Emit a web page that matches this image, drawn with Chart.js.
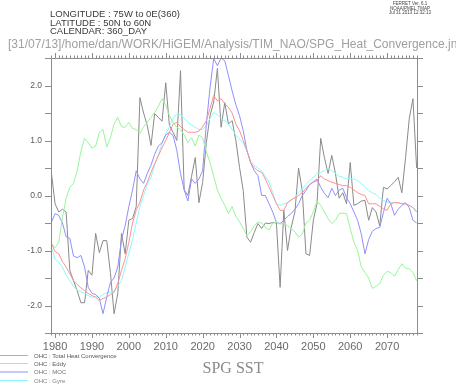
<!DOCTYPE html>
<html>
<head>
<meta charset="utf-8">
<script src="https://cdn.jsdelivr.net/npm/chart.js@4.4.1/dist/chart.umd.min.js"></script>
<style>
html, body { margin: 0; padding: 0; background: #fff; }
</style>
</head>
<body>
<canvas id="c" width="456" height="384"></canvas>
<script>
// yearly values, 1979 .. 2078
var firstYear = 1979, lastYear = 2078;
var years = [];
for (var yr = firstYear; yr <= lastYear; yr++) years.push(yr);

var decadeTicks = [1980, 1990, 2000, 2010, 2020, 2030, 2040, 2050, 2060, 2070];
var yTickLabels = [-2, -1, 0, 1, 2];

var sst = [ // grey line
    0.42, -0.15, -0.3, -0.25, -0.3, -1.36, -1.55, -1.73, -1.95, -1.95,
    -1.36, -1.45, -0.69, -1.04, -0.82, -0.82, -1.4, -2.15, -1.78, -0.69,
    -1.06, -0.45, -0.42, -0.2, 1.78, 1.5, 1.27, 0.91, 1.49, 1.42,
    1.35, 2.05, 1.27, 1.15, 1.0, 2.27, 0.1, 0.0, 0.35, 0.69,
    -0.13, 0.24, 0.96, 1.45, 1.7, 2.31, 1.24, 1.69, 1.3, 1.36,
    1.0, 0.51, 0.09, -0.76, -0.85, -0.67, -0.51, -0.6, -0.5, -0.51,
    -0.49, -0.5, -1.67, -0.27, -1.0, -0.58, -0.3, 0.5, 0.09, -1.06,
    -1.09, -0.45, -0.15, 1.04, 0.69, 0.4, 0.73, 0.4, -0.05, 0.05,
    -0.15, 0.6, -0.18, -0.15, -0.1, -0.09, -0.45, -0.22, -0.3, -0.55,
    0.15, 0.12, 0.18, 0.25, 0.33, 0.05, 0.69, 1.4, 1.76, 0.5
];
var total = [
    -0.87, -1.02, -1.06, -1.2, -1.3, -1.42, -1.55, -1.62, -1.68, -1.73,
    -1.78, -1.82, -1.85, -1.91, -1.87, -1.85, -1.8, -1.76, -1.6, -1.36,
    -1.15, -0.85, -0.5, -0.27, -0.12, 0.1, 0.24, 0.42, 0.58, 0.72,
    0.87, 1.0, 1.15, 1.3, 1.33, 1.25, 1.2, 1.15, 1.15, 1.15,
    1.17, 1.25, 1.36, 1.58, 1.82, 1.72, 1.76, 1.67, 1.6, 1.5,
    1.3, 1.18, 1.0, 0.82, 0.6, 0.5, 0.45, 0.42, 0.3, 0.15,
    0.0, -0.15, -0.27, -0.27, -0.13, -0.08, -0.04, 0.0, 0.05, 0.13,
    0.2, 0.24, 0.27, 0.36, 0.3, 0.27, 0.24, 0.22, 0.2, 0.18,
    0.18, 0.15, 0.1, 0.05, 0.02, 0.0, -0.15, -0.15, -0.15, -0.2,
    -0.24, -0.27, -0.15, -0.13, -0.13, -0.15, -0.15, -0.18, -0.22, -0.3
];
var eddy = [
    -0.87, -0.95, -0.85, -0.4, -0.05, 0.15, 0.22, 0.45, 0.8, 1.04,
    0.96, 0.86, 0.9, 1.15, 1.2, 0.88, 1.05, 1.3, 1.42, 1.25,
    1.24, 1.33, 1.22, 1.2, 1.13, 1.25, 1.33, 1.42, 1.51, 1.62,
    1.76, 1.64, 1.45, 1.33, 1.24, 1.2, 1.1, 0.96, 1.05, 0.9,
    1.1, 1.05, 0.8, 0.6, 0.35, 0.1, -0.05, -0.18, -0.33, -0.2,
    -0.38, -0.48, -0.6, -0.73, -0.66, -0.55, -0.48, -0.5, -0.58, -0.63,
    -0.5, -0.49, -0.52, -0.5, -0.55, -0.6, -0.66, -0.76, -0.7, -0.5,
    -0.45, -0.3, -0.1, -0.18, -0.3, -0.42, -0.51, -0.45, -0.33, -0.32,
    -0.33, -0.6, -0.85, -1.0, -1.3, -1.4, -1.5, -1.69, -1.65, -1.6,
    -1.45, -1.38, -1.4, -1.47, -1.35, -1.24, -1.32, -1.33, -1.4, -1.55
];
var moc = [
    -0.49, -0.33, -0.36, -0.5, -0.75, -0.78, -1.1, -1.13, -1.09, -1.3,
    -1.67, -1.78, -1.8, -1.87, -2.15, -1.85, -1.58, -1.5, -1.3, -0.8,
    -0.55, -0.2, 0.1, 0.45, 0.3, 0.22, 0.4, 0.55, 0.75, 0.9,
    0.96, 1.1, 1.15, 1.09, 0.82, 0.4, 0.1, -0.1, 0.3, 0.22,
    0.3, 0.45, 1.3, 1.96, 2.49, 2.36, 2.5, 2.45, 2.18, 1.9,
    1.65, 1.45, 1.18, 0.82, 0.6, 0.45, 0.36, 0.0, 0.0, -0.15,
    -0.3, -0.49, -0.51, -0.45, -0.38, -0.33, -0.25, -0.15, 0.0, 0.09,
    0.2, 0.25, 0.3, 0.15, 0.04, -0.04, 0.13, 0.0, 0.1, 0.13,
    -0.04, -0.15, -0.3, -0.45, -0.7, -1.06, -0.8, -0.65, -0.6, -0.58,
    -0.31, -0.05, -0.15, -0.36, -0.25, -0.18, -0.13, -0.22, -0.45, -0.5
];
var gyre = [
    -0.94, -1.15, -1.22, -1.3, -1.45, -1.55, -1.65, -1.72, -1.75, -1.78,
    -1.82, -1.85, -1.84, -1.85, -1.8, -1.77, -1.76, -1.74, -1.65, -1.55,
    -1.3, -1.05, -0.8, -0.5, -0.2, 0.0, 0.2, 0.33, 0.55, 0.75,
    0.95, 1.12, 1.25, 1.4, 1.49, 1.47, 1.4, 1.33, 1.28, 1.24,
    1.2, 1.2, 1.27, 1.4, 1.51, 1.47, 1.4, 1.36, 1.3, 1.2,
    1.1, 1.02, 0.96, 0.8, 0.62, 0.55, 0.5, 0.45, 0.35, 0.24,
    0.05, -0.15, -0.18, -0.15, -0.13, -0.08, -0.04, 0.05, 0.12, 0.2,
    0.27, 0.33, 0.4, 0.42, 0.45, 0.49, 0.45, 0.4, 0.35, 0.33,
    0.3, 0.31, 0.3, 0.27, 0.22, 0.15, 0.09, 0.05, 0.02, -0.05,
    -0.09, -0.12, -0.13, -0.13, -0.14, -0.15, -0.16, -0.18, -0.22, -0.28
];

var seriesNames = ['OHC : Total Heat Convergence', 'OHC : Eddy', 'OHC : MOC', 'OHC : Gyre'];
var seriesColors = ['#ff9090', '#98f598', '#8f8fff', '#8cf8f8'];
var legendText = ['#555', '#5a5a5a', '#707070', '#808080'];

function pts(vals) {
    return vals.map(function(v, i) { return { x: years[i], y: v }; });
}

function mkSet(label, vals, color) {
    return {
        label: label,
        data: pts(vals),
        borderColor: color,
        borderWidth: 1,
        pointRadius: 0,
        tension: 0,
        fill: false
    };
}

var axisColor = '#8c8c8c';

// fit a string into a given width by squeezing it horizontally
function fitText(ctx, txt, x, y, w) {
    var m = ctx.measureText(txt).width;
    ctx.save();
    ctx.translate(x, y);
    ctx.scale(Math.min(1, w / m), 1);
    ctx.fillText(txt, 0, 0);
    ctx.restore();
}

var ferret = {
    id: 'ferret',
    afterDraw: function(chart) {
        var ctx = chart.ctx, a = chart.chartArea,
            xs = chart.scales.x, ys = chart.scales.y;
        ctx.save();
        // frame and tick marks
        ctx.strokeStyle = axisColor;
        ctx.lineWidth = 1;
        ctx.beginPath();
        ctx.rect(Math.round(a.left) + 0.5, Math.round(a.top) + 0.5,
                 Math.round(a.right - a.left), Math.round(a.bottom - a.top));
        years.forEach(function(y) {
            var px = Math.round(xs.getPixelForValue(y)) + 0.5;
            var len = (y % 10 === 0) ? 5 : 2.5;
            ctx.moveTo(px, a.bottom);
            ctx.lineTo(px, a.bottom + len);
            ctx.moveTo(px, a.top);
            ctx.lineTo(px, a.top - len);
        });
        for (var v = -2.5; v <= 2.5; v += 0.5) {
            var py = Math.round(ys.getPixelForValue(v)) + 0.5;
            ctx.moveTo(a.left - 6, py);
            ctx.lineTo(a.left, py);
            ctx.moveTo(a.right, py);
            ctx.lineTo(a.right + 6, py);
        }
        ctx.stroke();

        // header
        ctx.fillStyle = '#3a3a3a';
        ctx.textAlign = 'left';
        ctx.textBaseline = 'alphabetic';
        ctx.font = '9.5px "Liberation Sans"';
        ctx.fillText('LONGITUDE : 75W to 0E(360)', 50, 17);
        ctx.fillText('LATITUDE : 50N to 60N', 50, 25.5);
        ctx.fillText('CALENDAR: 360_DAY', 50, 34);
        ctx.fillStyle = '#a0a0a0';
        ctx.font = '13px "Liberation Sans"';
        fitText(ctx, '[31/07/13]/home/dan/WORK/HiGEM/Analysis/TIM_NAO/SPG_Heat_Convergence.jnl', 8, 48, 452);

        ctx.fillStyle = '#444';
        ctx.textAlign = 'center';
        ctx.font = '4.5px "Liberation Sans"';
        ctx.fillText('FERRET Ver. 6.1', 410, 5);
        ctx.fillText('NOAA/PMEL TMAP', 410, 9.5);
        ctx.fillText('Jul 31 2013 12:32:13', 410, 14);

        // legend
        ctx.textAlign = 'left';
        ctx.font = '6px "Liberation Sans"';
        var ly = [355.5, 363.5, 372, 380.5];
        seriesNames.forEach(function(n, i) {
            ctx.strokeStyle = seriesColors[i];
            ctx.beginPath();
            ctx.moveTo(0, ly[i]);
            ctx.lineTo(28, ly[i]);
            ctx.stroke();
            ctx.fillStyle = legendText[i];
            ctx.fillText(n, 34, ly[i] + 2);
        });

        // bottom title
        ctx.fillStyle = '#8a8a8a';
        ctx.textAlign = 'center';
        ctx.font = '16px "Liberation Serif"';
        ctx.fillText('SPG SST', 233, 373);
        ctx.restore();
    }
};

new Chart(document.getElementById('c'), {
    type: 'line',
    data: {
        datasets: [
            mkSet(seriesNames[0], total, seriesColors[0]),
            mkSet(seriesNames[1], eddy, seriesColors[1]),
            mkSet(seriesNames[2], moc, seriesColors[2]),
            mkSet(seriesNames[3], gyre, seriesColors[3]),
            mkSet('SST', sst, '#8a8a8a')
        ]
    },
    options: {
        responsive: false,
        animation: false,
        devicePixelRatio: 1,
        layout: { padding: { top: 58, right: 39, bottom: 0, left: 0 } },
        plugins: { legend: { display: false }, tooltip: { enabled: false } },
        scales: {
            x: {
                type: 'linear',
                min: 1978.9,
                max: 2078.1,
                afterBuildTicks: function(s) {
                    s.ticks = decadeTicks.map(function(v) { return { value: v }; });
                },
                afterFit: function(s) { s.height = 51; },
                grid: { display: false, drawTicks: false },
                border: { display: false },
                ticks: {
                    autoSkip: false,
                    maxRotation: 0,
                    padding: 7,
                    color: '#6a6a6a',
                    font: { family: 'Liberation Sans', size: 11 },
                    callback: function(v) { return String(v); }
                }
            },
            y: {
                min: -2.5,
                max: 2.5,
                afterBuildTicks: function(s) {
                    s.ticks = yTickLabels.map(function(v) { return { value: v }; });
                },
                afterFit: function(s) { s.width = 51; },
                grid: { display: false, drawTicks: false },
                border: { display: false },
                ticks: {
                    padding: 9,
                    color: '#5a5a5a',
                    font: { family: 'Liberation Sans', size: 8.5 },
                    callback: function(v) { return v.toFixed(1); }
                }
            }
        }
    },
    plugins: [ferret]
});
</script>
</body>
</html>
